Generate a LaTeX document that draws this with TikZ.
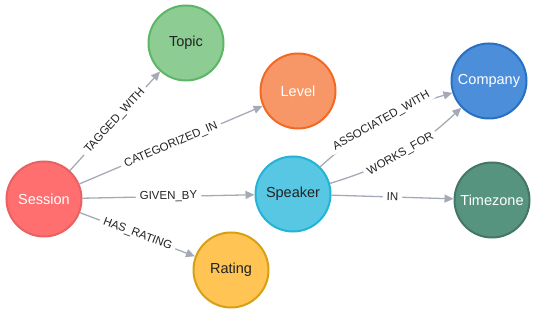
\documentclass[tikz,border=0pt]{standalone}
\usepackage{fontspec}
\setmainfont{Liberation Sans}
\usetikzlibrary{arrows.meta}
\definecolor{edgegray}{HTML}{A5ABB6}
\definecolor{sessfill}{HTML}{FF6F6F}
\definecolor{sessdraw}{HTML}{E86262}
\definecolor{topfill}{HTML}{8DCC93}
\definecolor{topdraw}{HTML}{5DB665}
\definecolor{levfill}{HTML}{F79767}
\definecolor{levdraw}{HTML}{F36924}
\definecolor{comfill}{HTML}{4C8EDA}
\definecolor{comdraw}{HTML}{2870C2}
\definecolor{spkfill}{HTML}{57C7E3}
\definecolor{spkdraw}{HTML}{23B3D7}
\definecolor{tzfill}{HTML}{569480}
\definecolor{tzdraw}{HTML}{447666}
\definecolor{ratfill}{HTML}{FFC454}
\definecolor{ratdraw}{HTML}{D7A013}
\definecolor{darktext}{HTML}{222222}
\tikzset{
  entity/.style={circle, minimum size=75pt, inner sep=0pt, line width=2pt,
    font=\fontsize{14.5}{16}\selectfont},
  rel/.style={draw=edgegray, line width=1.3pt, -{Triangle[length=9pt,width=8pt]}},
  rellabel/.style={fill=white, sloped, midway, inner xsep=4pt, inner ysep=1pt,
    text=darktext, font=\fontsize{11.5}{13}\selectfont}
}
\begin{document}
\begin{tikzpicture}[x=1pt,y=1pt]
\useasboundingbox (0,0) rectangle (537,313);
\node[entity, fill=sessfill, draw=sessdraw, text=white] (session) at (44,114) {Session};
\node[entity, fill=topfill, draw=topdraw, text=darktext] (topic) at (186,270) {Topic};
\node[entity, fill=levfill, draw=levdraw, text=white] (level) at (298,222) {Level};
\node[entity, fill=comfill, draw=comdraw, text=white] (company) at (489,232) {Company};
\node[entity, fill=spkfill, draw=spkdraw, text=darktext] (speaker) at (293,119) {Speaker};
\node[entity, fill=tzfill, draw=tzdraw, text=white] (timezone) at (492,113) {Timezone};
\node[entity, fill=ratfill, draw=ratdraw, text=darktext] (rating) at (231,43) {Rating};

\draw[rel] (session) -- node[rellabel] {TAGGED\_WITH} (topic);
\draw[rel] (session) -- node[rellabel] {CATEGORIZED\_IN} (level);
\draw[rel] (session) -- node[rellabel] {GIVEN\_BY} (speaker);
\draw[rel] (session) -- node[rellabel] {HAS\_RATING} (rating);
\draw[rel] (speaker.45) to[out=42,in=196] node[rellabel] {ASSOCIATED\_WITH} (company.198);
\draw[rel] (speaker.16) to[out=17,in=223] node[rellabel] {WORKS\_FOR} (company.224);
\draw[rel] (speaker) -- node[rellabel] {IN} (timezone);
\end{tikzpicture}
\end{document}
